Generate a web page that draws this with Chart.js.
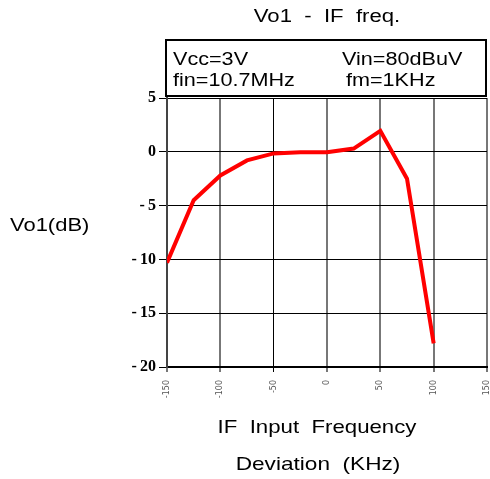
<!DOCTYPE html>
<html>
<head>
<meta charset="utf-8">
<script src="https://cdn.jsdelivr.net/npm/chart.js@4/dist/chart.umd.min.js"></script>
<style>
  body { margin: 0; background: #fff; }
  canvas { display: block; }
</style>
</head>
<body>
<canvas id="ifChart" width="490" height="479"></canvas>
<script>
// IF deviation (KHz) vs Vo1 (dB)
var deviation = [-150, -125, -100, -75, -50, -25, 0, 25, 50, 75, 100];
var vo1 = [-10.3, -4.5, -2.2, -0.8, -0.15, -0.05, -0.05, 0.3, 1.95, -2.5, -17.8];
var xTicks = [-150, -100, -50, 0, 50, 100, 150];
var yTicks = [5, 0, -5, -10, -15, -20];
var boxLeft = ["Vcc=3V", "fin=10.7MHz"];
var boxRight = ["Vin=80dBuV", "fm=1KHz"];

var pts = deviation.map(function (d, i) { return { x: d, y: vo1[i] }; });

// the original text is a bit wider than Arial, so stretch it horizontally
function wideText(c, text, x, y, sx) {
  c.save();
  c.translate(x, y);
  c.scale(sx, 1);
  c.fillText(text, 0, 0);
  c.restore();
}

// title, condition box and axis titles drawn on the canvas
var decorations = {
  id: 'decorations',
  afterDraw: function (chart) {
    var c = chart.ctx;
    var a = chart.chartArea;
    c.save();
    c.fillStyle = '#000';
    c.textBaseline = 'alphabetic';
    c.font = '18px "Liberation Sans", Arial, sans-serif';

    c.textAlign = 'center';
    wideText(c, 'Vo1  -  IF  freq.', 327, 22, 1.23);

    c.strokeStyle = '#000';
    c.lineWidth = 2;
    c.strokeRect(a.left - 1, 40, a.right - a.left, 56);

    c.textAlign = 'left';
    wideText(c, boxLeft[0], 173, 65, 1.2);
    wideText(c, boxLeft[1], 173, 86, 1.2);
    wideText(c, boxRight[0], 342, 65, 1.2);
    wideText(c, boxRight[1], 346, 86, 1.2);

    wideText(c, 'Vo1(dB)', 10, 231, 1.22);

    c.textAlign = 'center';
    c.font = '19px "Liberation Sans", Arial, sans-serif';
    wideText(c, 'IF  Input  Frequency', 317, 433, 1.17);
    wideText(c, 'Deviation  (KHz)', 318, 470, 1.19);
    c.restore();
  }
};

var ctx = document.getElementById("ifChart").getContext("2d");
var chart = new Chart(ctx, {
  type: 'line',
  data: {
    datasets: [{
      data: pts,
      borderColor: '#ff0000',
      borderWidth: 4,
      pointRadius: 0,
      tension: 0,
      fill: false
    }]
  },
  options: {
    responsive: false,
    animation: false,
    layout: { padding: { top: 98, right: 3, left: 0, bottom: 0 } },
    plugins: { legend: { display: false }, tooltip: { enabled: false } },
    scales: {
      x: {
        type: 'linear',
        min: -150,
        max: 150,
        afterBuildTicks: function (s) { s.ticks = xTicks.map(function (v) { return { value: v }; }); },
        afterFit: function (s) { s.height = 112; s.paddingLeft = 0; s.paddingRight = 0; },
        border: { color: '#000', width: 2 },
        grid: {
          color: function (c) { return c.index === 2 ? '#000' : '#777'; },
          lineWidth: function (c) { return c.index === 2 ? 1 : 2; },
          tickLength: 5
        },
        ticks: {
          color: '#555',
          font: { size: 8, family: '"DejaVu Sans"' },
          minRotation: 90,
          maxRotation: 90,
          padding: 8
        }
      },
      y: {
        min: -20,
        max: 5,
        afterBuildTicks: function (s) { s.ticks = yTicks.map(function (v) { return { value: v }; }); },
        afterFit: function (s) { s.width = 167; s.paddingTop = 0; s.paddingBottom = 0; },
        border: { color: '#444', width: 2 },
        grid: { color: '#000', lineWidth: 1, tickLength: 8 },
        ticks: {
          color: '#000',
          font: { size: 16, weight: 'bold', family: '"Liberation Serif", "Times New Roman", serif' },
          padding: 3,
          callback: function (v) { return v < 0 ? '-\u2009' + Math.abs(v) : '' + v; }
        }
      }
    }
  },
  plugins: [decorations]
});
</script>
</body>
</html>
